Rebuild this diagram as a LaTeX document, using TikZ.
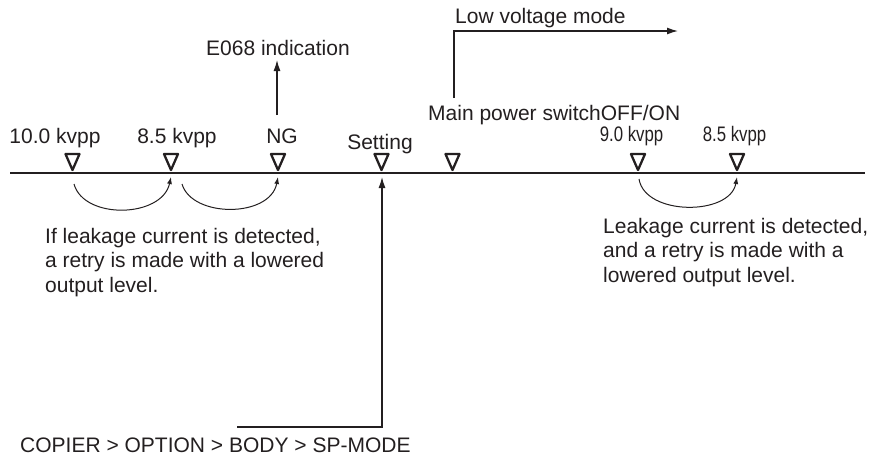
\documentclass[tikz,border=0pt]{standalone}
\usepackage{fontspec}
\setmainfont{Liberation Sans}
\usetikzlibrary{arrows.meta,calc}
\definecolor{ink}{HTML}{231F20}
\begin{document}
\begin{tikzpicture}[x=1pt,y=-1pt,
  every node/.style={inner sep=0pt, text=ink},
  txt/.style={font=\fontsize{21}{24.5}\selectfont},
  trimark/.style={draw=ink, line width=2.3pt, line join=round},
  conn/.style={draw=ink, line width=1.3pt, -{Latex[length=11pt,width=7pt]}},
  retry/.style={draw=ink, line width=1pt, -{Latex[length=7pt,width=5pt]}},
  axisline/.style={draw=ink, line width=1.6pt}]
\useasboundingbox (0,0) rectangle (870,459);

% time axis
\coordinate (axL) at (10,173);
\coordinate (axR) at (865,173);
\draw[axisline] (axL) -- (axR);

% marks (triangle tips)
\foreach \n/\x in {m1/72.5,m2/171,m3/278,m4/381.5,m5/452.5,m6/638,m7/737}{
  \coordinate (\n) at (\x,170);
  \draw[trimark] ($(\n)+(-7,-16)$) -- ($(\n)+(7,-16)$) -- (\n) -- cycle;
}

% labels above marks
\node[txt, anchor=base] (l1) at (55,143) {10.0 kvpp};
\node[txt, anchor=base] (l2) at (177,143) {8.5 kvpp};
\node[txt, anchor=base] (l3) at (282,143) {NG};
\node[txt, anchor=base] (l4) at (380,149) {Setting};
\node[txt, anchor=base west] (l5) at (428,120) {Main power switchOFF/ON};
\node[txt, anchor=base] (l6) at (631.5,141) {\scalebox{0.8}[1]{9.0 kvpp}};
\node[txt, anchor=base] (l7) at (734.5,141) {\scalebox{0.8}[1]{8.5 kvpp}};

% top labels
\node[txt, anchor=base] (e068) at (278,55) {E068 indication};
\node[txt, anchor=base west] (low) at (455,23) {Low voltage mode};

% explanatory texts
\node[txt, anchor=north west, align=left] (lt) at (45,228)
  {If leakage current is detected,\\a retry is made with a lowered\\output level.};
\node[txt, anchor=north west, align=left] (rt) at (603,218)
  {Leakage current is detected,\\and a retry is made with a\\lowered output level.};
\node[txt, anchor=base west] (sp) at (20,452) {COPIER > OPTION > BODY > SP-MODE};

% connectors
\coordinate (e0) at (277,115);
\coordinate (e1) at (277,60);
\draw[conn] (e0) -- (e1);

\coordinate (lv0) at (454,98);
\coordinate (lv1) at (678,31);
\draw[conn] (lv0) |- (lv1);

\coordinate (sp0) at (237,427);
\coordinate (sp1) at (382,177);
\draw[conn] (sp0) -| (sp1);

% retry arcs
\coordinate (a1s) at (74,184);
\coordinate (a1e) at (171,177);
\draw[retry] (a1s) .. controls (84,220) and (162,218) .. (a1e);
\coordinate (a2s) at (182,184);
\coordinate (a2e) at (278,177);
\draw[retry] (a2s) .. controls (192,218) and (270,218) .. (a2e);
\coordinate (a3s) at (639,179);
\coordinate (a3e) at (737,177);
\draw[retry] (a3s) .. controls (645,216) and (730,216) .. (a3e);
\end{tikzpicture}
\end{document}
